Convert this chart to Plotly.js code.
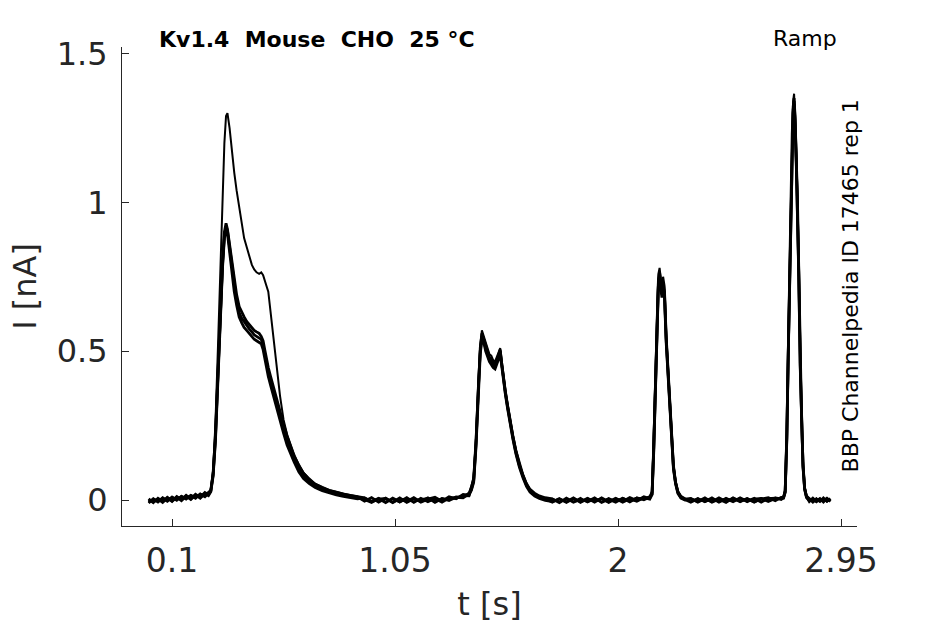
<!DOCTYPE html>
<html>
<head>
<meta charset="utf-8">
<script src="https://cdn.plot.ly/plotly-3.0.1.min.js"></script>
<style>
  html, body { margin: 0; padding: 0; background: #fff; }
  #chart { width: 945px; height: 624px; }
</style>
</head>
<body>
<div id="chart"></div>
<script>
// time base shared by all sweeps [s]
var tSec = [
  0.00, 0.02, 0.04, 0.06, 0.08, 0.10, 0.12, 0.14, 0.16, 0.18, 0.20, 0.22, 0.24, 0.255,
  0.265, 0.275, 0.285, 0.295, 0.305, 0.315, 0.323, 0.330, 0.336,
  0.345, 0.355, 0.365, 0.375, 0.386, 0.397, 0.407, 0.418, 0.429, 0.440,
  0.450, 0.460, 0.471, 0.480, 0.488, 0.495, 0.502, 0.510, 0.520, 0.530,
  0.540, 0.550, 0.560, 0.575, 0.590, 0.605, 0.620, 0.640, 0.660, 0.685,
  0.710, 0.740, 0.770, 0.800, 0.830, 0.860, 0.890,
  0.92, 0.95, 0.98, 1.01, 1.04, 1.07, 1.10, 1.13, 1.16, 1.19, 1.22, 1.25, 1.28, 1.31, 1.34, 1.365,
  1.375, 1.385, 1.395, 1.405, 1.413, 1.420, 1.428, 1.436, 1.444, 1.452,
  1.460, 1.468, 1.476, 1.484, 1.492, 1.498, 1.505, 1.512, 1.520, 1.530,
  1.540, 1.552, 1.565, 1.580, 1.595, 1.610, 1.625, 1.645, 1.665, 1.690,
  1.72, 1.75, 1.78, 1.81, 1.84, 1.87, 1.90, 1.93, 1.96, 1.99, 2.02, 2.05, 2.08, 2.11, 2.135,
  2.145, 2.152, 2.159, 2.166, 2.172, 2.177, 2.182, 2.187, 2.192, 2.198,
  2.205, 2.212, 2.220, 2.228, 2.236, 2.245, 2.255, 2.268, 2.285,
  2.31, 2.34, 2.37, 2.40, 2.43, 2.46, 2.49, 2.52, 2.55, 2.58, 2.61, 2.64, 2.67, 2.695,
  2.705, 2.712, 2.719, 2.725, 2.731, 2.737, 2.742, 2.746, 2.750, 2.754,
  2.759, 2.764, 2.770, 2.776, 2.782, 2.788, 2.795, 2.803,
  2.815, 2.830, 2.845, 2.860, 2.875, 2.890, 2.905
];

// current [nA], one array per sweep
var sweep1 = [
  -0.008, 0.006, -0.004, 0.009, -0.001, 0.011, 0.002, 0.014, 0.006, 0.017, 0.010, 0.021, 0.016, 0.026,
  0.035, 0.10, 0.26, 0.50, 0.76, 1.02, 1.20, 1.29, 1.30,
  1.25, 1.17, 1.10, 1.04, 0.99, 0.93, 0.88, 0.85, 0.82, 0.79,
  0.775, 0.765, 0.76, 0.765, 0.755, 0.74, 0.72, 0.70, 0.63, 0.56,
  0.49, 0.41, 0.35, 0.27, 0.22, 0.185, 0.15, 0.12, 0.092, 0.072,
  0.055, 0.044, 0.034, 0.028, 0.021, 0.017, 0.012,
  0.009, -0.004, 0.007, -0.006, 0.005, -0.008, 0.004, -0.006, 0.003, 0.007, -0.005, 0.006, 0.002, 0.012, 0.010, 0.025,
  0.045, 0.08, 0.21, 0.40, 0.52, 0.57, 0.55, 0.53, 0.505, 0.49,
  0.485, 0.47, 0.465, 0.48, 0.50, 0.51, 0.46, 0.41, 0.37, 0.32,
  0.27, 0.22, 0.17, 0.125, 0.088, 0.058, 0.038, 0.024, 0.015, 0.009,
  0.005, -0.007, 0.004, -0.006, 0.007, -0.008, 0.003, -0.006, 0.006, -0.005, 0.007, -0.003, 0.008, 0.003, 0.013,
  0.03, 0.20, 0.42, 0.63, 0.76, 0.78, 0.74, 0.71, 0.75, 0.72,
  0.56, 0.46, 0.34, 0.20, 0.12, 0.065, 0.03, 0.014, 0.006,
  -0.006, 0.006, -0.007, 0.004, -0.006, 0.007, -0.004, 0.006, -0.007, 0.004, 0.007, -0.003, 0.008, 0.005,
  0.012, 0.035, 0.24, 0.52, 0.78, 1.04, 1.25, 1.34, 1.365, 1.30,
  1.17, 1.04, 0.78, 0.48, 0.28, 0.13, 0.045, 0.015,
  0.007, -0.005, 0.006, -0.004, 0.005, -0.006, 0.003
];

var sweep2 = [
  0.004, -0.009, 0.006, -0.005, 0.009, -0.003, 0.012, 0.001, 0.016, 0.004, 0.019, 0.009, 0.025, 0.018,
  0.032, 0.09, 0.22, 0.42, 0.62, 0.80, 0.90, 0.93, 0.91,
  0.86, 0.80, 0.735, 0.69, 0.65, 0.63, 0.615, 0.60, 0.59, 0.58,
  0.57, 0.565, 0.56, 0.55, 0.535, 0.505, 0.475, 0.445, 0.415, 0.385,
  0.355, 0.325, 0.295, 0.255, 0.215, 0.18, 0.15, 0.115, 0.09, 0.068,
  0.053, 0.041, 0.032, 0.026, 0.02, 0.015, 0.011,
  -0.004, 0.008, -0.007, 0.006, -0.009, 0.004, -0.005, 0.008, -0.007, 0.003, 0.009, -0.004, 0.011, 0.004, 0.019, 0.016,
  0.04, 0.07, 0.20, 0.39, 0.51, 0.56, 0.54, 0.515, 0.495, 0.48,
  0.475, 0.465, 0.46, 0.47, 0.49, 0.505, 0.455, 0.405, 0.365, 0.315,
  0.265, 0.215, 0.165, 0.118, 0.082, 0.052, 0.033, 0.019, 0.011, 0.005,
  -0.007, 0.005, -0.008, 0.005, -0.006, 0.006, -0.007, 0.007, -0.006, 0.006, -0.005, 0.008, -0.002, 0.011, 0.005,
  0.025, 0.18, 0.40, 0.61, 0.74, 0.765, 0.73, 0.70, 0.73, 0.70,
  0.55, 0.45, 0.33, 0.20, 0.115, 0.06, 0.028, 0.01, 0.003,
  0.005, -0.007, 0.004, -0.006, 0.007, -0.005, 0.006, -0.006, 0.005, -0.006, 0.003, 0.008, -0.002, 0.009,
  0.010, 0.030, 0.22, 0.50, 0.76, 1.02, 1.23, 1.32, 1.35, 1.29,
  1.16, 1.02, 0.77, 0.47, 0.27, 0.12, 0.04, 0.012,
  -0.005, 0.006, -0.004, 0.005, -0.007, 0.005, -0.003
];

var sweep3 = [
  -0.010, 0.003, -0.007, 0.006, -0.004, 0.009, -0.001, 0.012, 0.003, 0.015, 0.006, 0.020, 0.011, 0.024,
  0.030, 0.085, 0.21, 0.41, 0.61, 0.79, 0.89, 0.92, 0.905,
  0.85, 0.79, 0.72, 0.67, 0.63, 0.61, 0.60, 0.585, 0.575, 0.565,
  0.555, 0.55, 0.545, 0.54, 0.52, 0.49, 0.46, 0.43, 0.40, 0.37,
  0.34, 0.31, 0.28, 0.24, 0.20, 0.17, 0.14, 0.105, 0.08, 0.062,
  0.048, 0.036, 0.028, 0.021, 0.016, 0.011, 0.007,
  0.002, -0.008, 0.005, -0.009, 0.006, -0.006, 0.008, -0.008, 0.006, -0.006, 0.005, -0.007, 0.007, 0.006, 0.015, 0.014,
  0.035, 0.065, 0.19, 0.38, 0.50, 0.55, 0.535, 0.51, 0.49, 0.475,
  0.465, 0.455, 0.45, 0.465, 0.485, 0.50, 0.45, 0.40, 0.36, 0.31,
  0.26, 0.21, 0.16, 0.115, 0.08, 0.05, 0.032, 0.018, 0.01, 0.004,
  0.003, -0.009, 0.006, -0.007, 0.002, -0.005, 0.007, -0.008, 0.003, -0.007, 0.006, -0.006, 0.007, 0.001, 0.010,
  0.02, 0.17, 0.39, 0.60, 0.73, 0.755, 0.72, 0.69, 0.72, 0.69,
  0.54, 0.44, 0.32, 0.19, 0.11, 0.058, 0.025, 0.008, 0.001,
  -0.007, 0.004, -0.005, 0.007, -0.007, 0.004, -0.006, 0.007, -0.004, 0.006, -0.007, 0.005, 0.006, 0.002,
  0.008, 0.028, 0.21, 0.49, 0.75, 1.01, 1.22, 1.31, 1.34, 1.28,
  1.15, 1.01, 0.76, 0.46, 0.26, 0.115, 0.038, 0.01,
  0.004, -0.007, 0.003, -0.005, 0.007, -0.004, 0.005
];

var sweep4 = [
  0.001, -0.006, 0.004, -0.008, 0.007, -0.005, 0.010, -0.002, 0.013, 0.002, 0.017, 0.006, 0.021, 0.015,
  0.028, 0.08, 0.20, 0.40, 0.60, 0.78, 0.88, 0.91, 0.895,
  0.835, 0.77, 0.70, 0.655, 0.615, 0.595, 0.58, 0.57, 0.56, 0.55,
  0.54, 0.535, 0.53, 0.525, 0.505, 0.475, 0.445, 0.415, 0.385, 0.355,
  0.325, 0.295, 0.265, 0.225, 0.185, 0.155, 0.128, 0.095, 0.072, 0.055,
  0.042, 0.031, 0.023, 0.017, 0.012, 0.008, 0.004,
  0.007, -0.006, 0.003, 0.005, -0.007, 0.007, -0.008, 0.004, -0.005, 0.007, -0.008, 0.005, -0.002, 0.009, 0.007, 0.020,
  0.032, 0.06, 0.18, 0.37, 0.49, 0.54, 0.53, 0.50, 0.48, 0.465,
  0.455, 0.445, 0.44, 0.455, 0.475, 0.49, 0.44, 0.395, 0.355, 0.305,
  0.255, 0.205, 0.155, 0.11, 0.075, 0.046, 0.027, 0.013, 0.005, -0.001,
  -0.005, 0.003, -0.006, 0.007, -0.008, 0.004, -0.004, 0.005, -0.008, 0.004, -0.007, 0.004, -0.004, 0.008, 0.003,
  0.018, 0.16, 0.38, 0.59, 0.72, 0.745, 0.71, 0.68, 0.71, 0.68,
  0.53, 0.43, 0.31, 0.185, 0.105, 0.055, 0.022, 0.006, 0.000,
  0.004, -0.005, 0.007, -0.007, 0.003, -0.008, 0.007, -0.004, 0.004, -0.007, 0.005, -0.005, 0.005, 0.007,
  0.006, 0.025, 0.20, 0.48, 0.74, 1.00, 1.21, 1.30, 1.33, 1.27,
  1.14, 1.00, 0.75, 0.45, 0.25, 0.11, 0.035, 0.008,
  -0.003, 0.004, -0.006, 0.003, -0.003, 0.006, -0.005
];

var sweeps = [sweep1, sweep2, sweep3, sweep4];
var sweepWidths = [2, 2.8, 2.8, 2.8];

var xTickVals = [0.1, 1.05, 2, 2.95];
var xTickText = ['0.1', '1.05', '2', '2.95'];
var yTickVals = [0, 0.5, 1, 1.5];
var yTickText = ['0', '0.5', '1', '1.5'];

var ink = '#262626';
var fam = 'DejaVu Sans, sans-serif';

function on_start(){
    var chart = document.getElementById('chart');

    var data = sweeps.map(function(s, i){
        return {
            x: tSec,
            y: s,
            mode: 'lines',
            line: {color: '#000000', width: sweepWidths[i]},
            hoverinfo: 'skip'
        };
    });

    var layout = {
        width: 945,
        height: 624,
        margin: {l: 122, r: 88, t: 47, b: 98},
        paper_bgcolor: '#ffffff',
        plot_bgcolor: '#ffffff',
        showlegend: false,
        xaxis: {
            range: [-0.1132, 3.018],
            showgrid: false, zeroline: false,
            showline: true, linecolor: ink, linewidth: 1,
            ticks: 'inside', ticklen: 7, tickcolor: ink,
            tickvals: xTickVals, ticktext: xTickText,
            ticklabelstandoff: 5,
            tickfont: {family: fam, size: 33, color: ink},
            title: {text: 't [s]', font: {family: fam, size: 32, color: ink}, standoff: 14}
        },
        yaxis: {
            range: [-0.0873, 1.522],
            showgrid: false, zeroline: false,
            showline: true, linecolor: ink, linewidth: 1,
            ticks: 'inside', ticklen: 7, tickcolor: ink,
            tickvals: yTickVals, ticktext: yTickText,
            ticklabelstandoff: 7,
            tickfont: {family: fam, size: 32, color: ink},
            title: {text: 'I [nA]', font: {family: fam, size: 32, color: ink}, standoff: 10}
        },
        annotations: [
            {
                text: '<b>Kv1.4\u00A0 Mouse\u00A0 CHO\u00A0 25 °C</b>',
                xref: 'paper', yref: 'paper', x: 0.048, y: 1.016,
                xanchor: 'left', yanchor: 'middle', showarrow: false,
                font: {family: fam, size: 22, color: '#000000'}
            },
            {
                text: 'Ramp',
                xref: 'paper', yref: 'paper', x: 0.975, y: 1.018,
                xanchor: 'right', yanchor: 'middle', showarrow: false,
                font: {family: fam, size: 22, color: '#000000'}
            },
            {
                text: 'BBP Channelpedia ID 17465 rep 1',
                xref: 'paper', yref: 'paper', x: 0.991, y: 0.501,
                xanchor: 'center', yanchor: 'middle', showarrow: false,
                textangle: -90,
                font: {family: fam, size: 22, color: '#000000'}
            }
        ]
    };

    Plotly.newPlot(chart, data, layout, {displayModeBar: false, staticPlot: true});
}

on_start();
</script>
</body>
</html>
